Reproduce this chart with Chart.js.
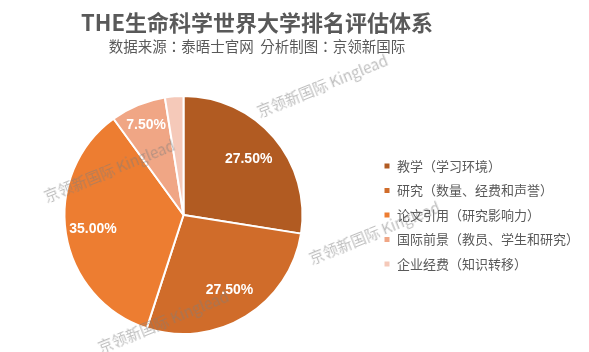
<!DOCTYPE html>
<html>
<head>
<meta charset="utf-8">
<script src="https://cdn.jsdelivr.net/npm/chart.js@4"></script>
<style>
  body { margin: 0; background: #fff; }
  #wrap { position: relative; width: 589px; height: 352px; overflow: hidden; font-family: "Noto Sans CJK SC", sans-serif; }
  #titulo { position: absolute; left: 0; top: 6px; width: 514px; text-align: center; font-size: 22px; font-weight: bold; color: #595959; line-height: 30px; }
  #subtitulo { position: absolute; left: 0; top: 36px; width: 514px; text-align: center; font-size: 14.5px; color: #595959; line-height: 20px; font-family: "Noto Sans CJK TC", sans-serif; }
  .marca { position: absolute; font-size: 15px; color: rgba(125,125,125,0.5); white-space: nowrap; transform: translate(-50%, -50%) rotate(-22deg); pointer-events: none; font-family: "Noto Sans CJK SC", "Liberation Sans", sans-serif; }
  canvas { position: absolute; left: -5px; top: 0; }
</style>
</head>
<body>
<div id="wrap">
  <canvas id="pizzaChart" width="594" height="352"></canvas>
  <div id="titulo">THE生命科学世界大学排名评估体系</div>
  <div id="subtitulo">数据来源：泰晤士官网&nbsp;&nbsp;分析制图：京领新国际</div>
  <div class="marca" style="left:322px; top:85px;">京领新国际 Kinglead</div>
  <div class="marca" style="left:109px; top:170px;">京领新国际 Kinglead</div>
  <div class="marca" style="left:374px; top:232px;">京领新国际 Kinglead</div>
  <div class="marca" style="left:163px; top:321px;">京领新国际 Kinglead</div>
</div>
<script>
// dados do gráfico
const categorias = ['教学（学习环境）', '研究（数量、经费和声誉）', '论文引用（研究影响力）', '国际前景（教员、学生和研究）', '企业经费（知识转移）'];
const pesos = [27.5, 27.5, 35, 7.5, 2.5];
const cores = ['#B15B22', '#D06C2A', '#ED7D31', '#F0A685', '#F5C9B9'];

// distância do rótulo ao centro (fração do raio), por fatia
const posRotulo = [0.72, 0.74, 0.77, 0.82, null];

// plugin que escreve as porcentagens dentro das fatias
const rotulosPlugin = {
    id: 'rotulos',
    afterDatasetsDraw(chart) {
        const ctx = chart.ctx;
        const arcos = chart.getDatasetMeta(0).data;
        ctx.save();
        ctx.font = 'bold 14px "Liberation Sans", Arial, sans-serif';
        ctx.fillStyle = '#fff';
        ctx.textAlign = 'center';
        ctx.textBaseline = 'middle';
        arcos.forEach((arco, i) => {
            if (posRotulo[i] === null) return;
            const p = arco.getProps(['x', 'y', 'startAngle', 'endAngle', 'outerRadius'], true);
            const meio = (p.startAngle + p.endAngle) / 2;
            const r = p.outerRadius * posRotulo[i];
            ctx.fillText(pesos[i].toFixed(2) + '%', p.x + Math.cos(meio) * r, p.y + Math.sin(meio) * r);
        });
        ctx.restore();
    }
};

const ctx = document.getElementById('pizzaChart').getContext('2d');
const pizzaChart = new Chart(ctx, {
    type: 'pie',
    data: {
        labels: categorias,
        datasets: [{
            data: pesos,
            backgroundColor: cores,
            borderColor: '#fff',
            borderWidth: 2
        }]
    },
    options: {
        responsive: false,
        animation: false,
        layout: {
            padding: { top: 95, bottom: 17, left: 0, right: 0 }
        },
        plugins: {
            legend: {
                position: 'right',
                align: 'center',
                labels: {
                    boxWidth: 7,
                    boxHeight: 7,
                    padding: 11.5,
                    color: '#595959',
                    font: { size: 13, family: '"Noto Sans CJK SC", sans-serif' }
                }
            },
            tooltip: { enabled: false }
        }
    },
    plugins: [rotulosPlugin]
});
</script>
</body>
</html>
